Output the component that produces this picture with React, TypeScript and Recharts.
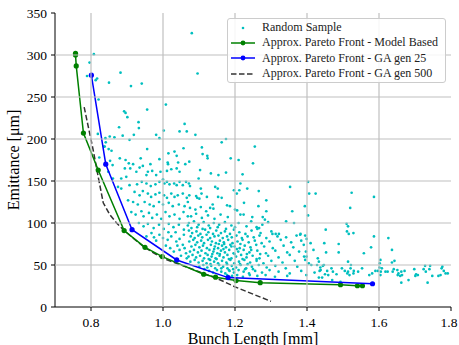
import {
  ScatterChart,
  Scatter,
  XAxis,
  YAxis,
  Legend,
} from "recharts";

// [bunch length (mm), emittance (um)]
const randomSample: [number, number][] = [
  // sparse top
  [0.808, 301], [0.796, 291], [0.789, 275], [0.813, 270], [0.817, 272], [0.85, 267],
  [0.882, 279], [0.911, 263], [0.941, 266], [1.08, 326], [1.096, 278], [0.821, 247],
  [0.892, 233], [0.896, 231], [0.901, 226], [0.956, 235], [1.008, 241], [0.932, 220],
  [0.933, 213], [1.06, 218], [0.878, 214], [0.819, 206], [0.981, 205], [0.99, 201],
  [1.002, 210], [1.046, 209], [1.066, 209], [1.09, 205], [0.907, 199], [0.919, 205],
  [0.865, 202], [0.84, 201], [0.888, 204], [1.175, 200], [1.163, 196], [1.108, 190],
  [1.255, 191], [0.823, 178], [0.838, 191], [0.852, 203],
  // left-middle
  [0.841, 196], [0.849, 188], [0.857, 186], [0.836, 191], [0.956, 188], [1.015, 183],
  [1.038, 180], [1.032, 185], [1.057, 189], [0.853, 174], [0.86, 169], [0.88, 177],
  [0.896, 175], [0.905, 171], [0.917, 170], [0.938, 177], [0.944, 168], [0.965, 170],
  [0.99, 176], [1.013, 172], [1.014, 170], [1.042, 172], [1.062, 170], [0.848, 161],
  [0.894, 165], [0.909, 165], [0.926, 161], [0.935, 166], [0.958, 161], [0.954, 157],
  [0.97, 162], [0.981, 157], [0.993, 161], [1.0, 152], [1.011, 162], [1.023, 164],
  [1.038, 165], [1.046, 161], [0.861, 153], [0.884, 153], [0.898, 155], [0.875, 143],
  [0.884, 141],
  [0.907, 145], [0.928, 146], [0.941, 149], [0.954, 147], [0.966, 144], [0.979, 146],
  [0.99, 149], [1.004, 147], [1.011, 149], [1.018, 146], [1.031, 147], [1.038, 145],
  [1.046, 149], [1.055, 145], [1.064, 149], [1.072, 147],
  [0.921, 137], [0.935, 133], [0.944, 138], [0.958, 135], [0.967, 131], [0.979, 134],
  [0.99, 136], [1.003, 133], [1.011, 130], [1.023, 135], [1.032, 131], [1.041, 133],
  [1.055, 135], [1.066, 130], [1.073, 133],
  [0.903, 127], [0.917, 125], [0.93, 122], [0.949, 125], [0.963, 122], [0.974, 120],
  [0.989, 125], [1.0, 122], [1.016, 124], [1.027, 120], [1.044, 122], [1.06, 120],
  [1.069, 125],
  [0.912, 113], [0.924, 110], [0.94, 114], [0.946, 108], [0.961, 112], [0.97, 106],
  [0.983, 110], [0.995, 105], [1.007, 113], [1.018, 108], [1.032, 110], [1.046, 105],
  [1.057, 113], [1.069, 108],
  [0.933, 100], [0.946, 96], [0.958, 99], [0.974, 94], [0.989, 98], [1.002, 93],
  [1.016, 99], [1.029, 95], [1.044, 98], [1.058, 92], [1.069, 97],
  // lower left near the front
  [0.954, 84], [0.981, 79], [1.0, 82], [1.013, 80], [1.023, 84], [1.037, 78],
  [1.046, 81], [1.055, 74], [1.046, 68], [1.064, 64], [1.05, 61], [1.066, 58],
  [0.968, 88], [0.99, 86], [1.008, 73], [1.02, 70], [1.03, 66], [1.06, 70],
  [1.058, 86], [1.035, 89], [0.975, 83], [1.015, 89], [1.04, 73],
  // dense core
  [1.075, 118], [1.09, 116], [1.105, 119], [1.12, 114], [1.14, 117],
  [1.078, 108], [1.092, 111], [1.108, 106], [1.125, 109], [1.143, 105], [1.16, 110],
  [1.18, 107], [1.072, 100], [1.086, 102], [1.099, 98], [1.113, 101], [1.127, 97],
  [1.141, 100], [1.156, 98], [1.172, 101], [1.19, 97], [1.21, 100], [1.232, 96],
  [1.079, 94], [1.095, 95], [1.11, 93], [1.131, 94], [1.152, 95], [1.175, 93],
  [1.2, 95], [1.26, 95],
  [1.072, 91], [1.081, 88], [1.093, 90], [1.104, 87], [1.117, 92], [1.126, 89],
  [1.139, 87], [1.148, 91], [1.161, 88], [1.172, 90], [1.186, 87], [1.197, 92],
  [1.212, 89], [1.229, 87], [1.246, 91], [1.271, 88], [1.301, 90], [1.322, 87],
  [1.077, 84], [1.088, 82], [1.098, 85], [1.109, 83], [1.121, 86], [1.131, 82],
  [1.143, 84], [1.154, 85], [1.166, 82], [1.178, 84], [1.191, 83], [1.204, 85],
  [1.219, 82], [1.235, 84], [1.252, 83], [1.268, 85], [1.287, 82], [1.318, 84],
  [1.342, 83], [1.371, 85],
  [1.073, 78], [1.084, 80], [1.095, 77], [1.106, 79], [1.114, 76], [1.125, 80],
  [1.136, 78], [1.147, 76], [1.158, 79], [1.169, 77], [1.181, 80], [1.193, 76],
  [1.207, 78], [1.221, 80], [1.238, 77], [1.255, 79], [1.274, 76], [1.296, 78],
  [1.327, 80], [1.356, 77], [1.384, 79], [1.41, 76],
  [1.079, 72], [1.09, 74], [1.101, 71], [1.111, 73], [1.122, 70], [1.133, 74],
  [1.144, 72], [1.153, 70], [1.164, 73], [1.175, 71], [1.187, 74], [1.199, 72],
  [1.213, 70], [1.227, 73], [1.243, 71], [1.259, 74], [1.281, 72], [1.305, 70],
  [1.335, 73], [1.362, 71], [1.391, 74],
  [1.075, 66], [1.086, 68], [1.097, 65], [1.107, 67], [1.118, 64], [1.129, 68],
  [1.14, 66], [1.151, 64], [1.161, 67], [1.172, 65], [1.184, 68], [1.196, 64],
  [1.209, 66], [1.224, 68], [1.24, 65], [1.262, 67], [1.286, 64], [1.312, 67],
  [1.345, 65], [1.378, 66], [1.418, 68],
  [1.071, 60], [1.082, 62], [1.092, 59], [1.103, 61], [1.114, 58], [1.124, 62],
  [1.135, 60], [1.146, 58], [1.157, 61], [1.168, 59], [1.179, 62], [1.19, 58],
  [1.203, 60], [1.217, 62], [1.232, 59], [1.249, 61], [1.268, 58], [1.292, 61],
  [1.321, 59], [1.352, 62], [1.392, 60], [1.43, 58],
  [1.076, 54], [1.088, 56], [1.099, 53], [1.11, 55], [1.121, 52], [1.131, 56],
  [1.142, 54], [1.153, 52], [1.164, 55], [1.176, 53], [1.187, 56], [1.198, 52],
  [1.211, 54], [1.226, 56], [1.242, 53], [1.26, 55], [1.279, 52], [1.301, 55],
  [1.332, 53], [1.366, 55], [1.405, 52],
  [1.101, 48], [1.112, 50], [1.123, 47], [1.134, 49], [1.145, 46], [1.156, 50],
  [1.167, 48], [1.179, 46], [1.191, 49], [1.203, 47], [1.216, 50], [1.231, 46],
  [1.247, 48], [1.266, 50], [1.288, 47], [1.312, 49], [1.341, 46], [1.373, 48],
  [1.412, 50],
  [1.128, 43], [1.139, 41], [1.15, 44], [1.162, 42], [1.173, 40], [1.185, 43],
  [1.197, 41], [1.21, 44], [1.224, 42], [1.239, 40], [1.256, 43], [1.275, 41],
  [1.296, 44], [1.321, 42], [1.352, 40], [1.384, 43], [1.421, 41],
  [1.178, 38], [1.192, 37], [1.206, 38], [1.222, 36], [1.241, 38], [1.262, 37],
  [1.285, 38], [1.311, 36], [1.345, 37], [1.398, 38],
  [1.115, 45], [1.132, 51], [1.149, 57], [1.158, 63], [1.168, 69], [1.178, 51],
  [1.183, 57], [1.195, 45], [1.199, 63], [1.205, 69], [1.214, 51], [1.221, 57],
  [1.228, 45], [1.233, 63], [1.183, 44], [1.162, 46], [1.137, 63], [1.127, 57],
  [1.142, 69], [1.17, 75], [1.19, 72], [1.155, 75], [1.215, 75], [1.235, 51],
  [1.25, 45], [1.26, 57], [1.27, 63], [1.245, 68],
  // upper middle
  [1.11, 182], [1.123, 180], [1.124, 177], [1.188, 177], [1.21, 175], [1.25, 171],
  [1.103, 163], [1.099, 153], [1.133, 159], [1.154, 157], [1.175, 160], [1.221, 158],
  [1.073, 173], [1.075, 144], [1.145, 143], [1.152, 141], [1.215, 147], [1.105, 141],
  [1.107, 135], [1.197, 139], [1.234, 141], [1.266, 138], [1.205, 135], [1.212, 139],
  [1.353, 143], [1.403, 149], [1.406, 135], [1.424, 135], [1.092, 132], [1.095, 130],
  [1.101, 129], [1.122, 131], [1.153, 131], [1.163, 130], [1.287, 127], [1.225, 124],
  [1.265, 120], [1.178, 121], [1.186, 120], [1.394, 120], [1.138, 122], [1.131, 118],
  [1.2, 116], [1.206, 115], [1.287, 114], [1.359, 114], [1.403, 109], [1.224, 110],
  [1.215, 110], [1.277, 107], [1.248, 107], [1.283, 104], [1.245, 102], [1.292, 101],
  [1.342, 102], [1.364, 100], [1.276, 98], [1.262, 93], [1.267, 94], [1.304, 87],
  [1.313, 87], [1.382, 87],
  // right side
  [1.524, 136], [1.586, 131], [1.52, 118], [1.51, 99], [1.452, 92], [1.511, 90],
  [1.516, 87], [1.529, 88], [1.514, 96], [1.488, 75], [1.448, 76], [1.453, 65],
  [1.488, 65], [1.586, 84], [1.578, 71], [1.558, 64], [1.626, 82], [1.636, 68],
  [1.381, 86], [1.395, 85], [1.399, 81], [1.397, 66], [1.399, 60], [1.395, 56],
  [1.428, 50], [1.444, 49], [1.604, 56], [1.602, 52], [1.643, 55], [1.636, 53],
  [1.447, 50], [1.437, 47], [1.435, 43], [1.433, 35], [1.468, 46], [1.472, 42],
  [1.45, 39], [1.497, 46], [1.505, 43], [1.514, 54], [1.522, 50], [1.521, 46],
  [1.514, 42], [1.518, 38], [1.53, 43], [1.542, 42], [1.553, 46], [1.47, 32],
  [1.493, 30], [1.573, 38], [1.581, 40], [1.59, 43], [1.597, 43], [1.605, 42],
  [1.604, 38], [1.601, 47], [1.608, 46], [1.433, 54], [1.438, 44], [1.456, 43],
  [1.459, 38], [1.482, 39], [1.442, 35], [1.512, 40], [1.529, 40],
  [1.618, 42], [1.624, 42], [1.638, 42], [1.641, 45], [1.651, 44], [1.662, 42],
  [1.654, 40], [1.652, 38], [1.659, 37], [1.664, 38], [1.671, 43], [1.662, 29],
  [1.682, 32], [1.701, 37], [1.703, 39], [1.698, 45], [1.708, 38], [1.724, 45],
  [1.728, 49], [1.73, 42], [1.74, 45], [1.742, 49], [1.748, 37], [1.735, 29],
  [1.765, 37], [1.771, 38], [1.776, 48], [1.78, 43], [1.785, 40], [1.791, 40],
  [1.774, 46],
];

const modelBased: [number, number][] = [
  [0.757, 302], [0.757, 300], [0.759, 287], [0.779, 207], [0.82, 163], [0.892, 91],
  [0.95, 71], [0.998, 60], [1.113, 39], [1.146, 35.5], [1.203, 31.5], [1.27, 29],
  [1.493, 26.5], [1.54, 25.3], [1.554, 25.3],
];

const gaGen25: [number, number][] = [
  [0.801, 276], [0.841, 170], [0.914, 92], [1.038, 56], [1.181, 35], [1.582, 27.7],
];

const gaGen500: [number, number][] = [
  [0.781, 238], [0.806, 187], [0.82, 155], [0.834, 124], [0.852, 110], [0.871, 100],
  [0.892, 91], [0.95, 70.5], [1.0, 58], [1.05, 50], [1.1, 42], [1.15, 34],
  [1.2, 24], [1.3, 6.7],
];

const xTicks = [0.8, 1.0, 1.2, 1.4, 1.6, 1.8];
const yTicks = [0, 50, 100, 150, 200, 250, 300, 350];
const X_DOMAIN: [number, number] = [0.7, 1.8];
const Y_DOMAIN: [number, number] = [0, 350];

const toPoints = (pts: [number, number][]) => pts.map(([x, y]) => ({ x, y }));

// layout
const W = 459;
const H = 345;
const MARGIN = { top: 13, right: 8, bottom: 0, left: 0 };
const Y_AXIS_W = 55;
const X_AXIS_H = 38;
const PLOT_LEFT = MARGIN.left + Y_AXIS_W;
const PLOT_RIGHT = W - MARGIN.right;
const PLOT_TOP = MARGIN.top;
const PLOT_BOTTOM = H - MARGIN.bottom - X_AXIS_H;

const FONT = "'Liberation Serif', 'DejaVu Serif', serif";
const GRID = "#c0c0c0";

// ticks that also draw their grid line (matplotlib-style grid)
const XTick = (props: any) => {
  const { x, y, payload } = props;
  const v = payload.value as number;
  return (
    <g>
      {v !== X_DOMAIN[1] && (
        <line x1={x} x2={x} y1={PLOT_TOP} y2={PLOT_BOTTOM} stroke={GRID} strokeWidth={1.2} />
      )}
      <text x={x} y={y} dy="0.71em" textAnchor="middle" fontFamily={FONT} fontSize={13.5} fill="#000">
        {v.toFixed(1)}
      </text>
    </g>
  );
};

const YTick = (props: any) => {
  const { x, y, payload } = props;
  const v = payload.value as number;
  return (
    <g>
      {v !== Y_DOMAIN[0] && v !== Y_DOMAIN[1] && (
        <line x1={PLOT_LEFT} x2={PLOT_RIGHT} y1={y} y2={y} stroke={GRID} strokeWidth={1.2} />
      )}
      <text x={x} y={y} dy="0.355em" textAnchor="end" fontFamily={FONT} fontSize={13.5} fill="#000">
        {v}
      </text>
    </g>
  );
};

const SampleDot = (props: any) => (
  <circle cx={props.cx} cy={props.cy} r={1.35} fill="#00bfbf" />
);
const GreenDot = (props: any) => (
  <circle cx={props.cx} cy={props.cy} r={2.6} fill="#008000" />
);
const BlueDot = (props: any) => (
  <circle cx={props.cx} cy={props.cy} r={2.6} fill="#0000ff" />
);
const NoDot = () => <g />;

const legendRows = [
  { label: "Random Sample", kind: "dot", color: "#00bfbf" },
  { label: "Approx. Pareto Front - Model Based", kind: "line", color: "#008000" },
  { label: "Approx. Pareto Front - GA gen 25", kind: "line", color: "#0000ff" },
  { label: "Approx. Pareto Front - GA gen 500", kind: "dash", color: "#333" },
];

function LegendBox() {
  return (
    <div
      style={{
        border: "1px solid #cccccc",
        borderRadius: 3,
        background: "rgba(255,255,255,0.85)",
        padding: "1px 0",
        fontFamily: FONT,
        fontSize: 12,
        color: "#222",
      }}
    >
      {legendRows.map((row) => (
        <div
          key={row.label}
          style={{ display: "flex", alignItems: "center", height: 15.3 }}
        >
          <svg width={34} height={12} style={{ flexShrink: 0 }}>
            {row.kind === "dot" && <circle cx={15} cy={6} r={1.3} fill={row.color} />}
            {row.kind === "line" && (
              <>
                <line x1={3} y1={6} x2={27} y2={6} stroke={row.color} strokeWidth={1.5} />
                <circle cx={15} cy={6} r={2.4} fill={row.color} />
              </>
            )}
            {row.kind === "dash" && (
              <line
                x1={3}
                y1={6}
                x2={27}
                y2={6}
                stroke={row.color}
                strokeWidth={1.5}
                strokeDasharray="5.5 2.5"
              />
            )}
          </svg>
          <span style={{ whiteSpace: "nowrap" }}>{row.label}</span>
        </div>
      ))}
    </div>
  );
}

export default function App() {
  return (
    <div style={{ position: "absolute", left: 0, top: 0, background: "#fff" }}>
      <ScatterChart width={W} height={H} margin={MARGIN}>
        <XAxis
          type="number"
          dataKey="x"
          domain={X_DOMAIN}
          ticks={xTicks}
          tick={<XTick />}
          tickSize={4}
          tickMargin={6}
          height={X_AXIS_H}
          stroke="#000"
          label={({ viewBox }: any) => (
            <text
              x={viewBox.x + viewBox.width / 2}
              y={viewBox.y + 36.5}
              textAnchor="middle"
              fontFamily={FONT}
              fontSize={16}
              fill="#000"
            >
              Bunch Length [mm]
            </text>
          )}
        />
        <XAxis
          xAxisId="top"
          orientation="top"
          type="number"
          domain={X_DOMAIN}
          tick={false}
          tickLine={false}
          height={0}
          stroke="#000"
        />
        <YAxis
          type="number"
          dataKey="y"
          domain={Y_DOMAIN}
          ticks={yTicks}
          tick={<YTick />}
          tickSize={4}
          tickMargin={4}
          width={Y_AXIS_W}
          stroke="#000"
          label={({ viewBox }: any) => {
            const cy = viewBox.y + viewBox.height / 2;
            return (
              <text
                x={19}
                y={cy}
                transform={`rotate(-90 19 ${cy})`}
                textAnchor="middle"
                fontFamily={FONT}
                fontSize={16}
                fill="#000"
              >
                Emittance [μm]
              </text>
            );
          }}
        />
        <YAxis
          yAxisId="right"
          orientation="right"
          type="number"
          domain={Y_DOMAIN}
          tick={false}
          tickLine={false}
          width={0}
          stroke="#000"
        />
        <Scatter
          name="Random Sample"
          data={toPoints(randomSample)}
          shape={SampleDot}
          isAnimationActive={false}
        />
        <Scatter
          name="Approx. Pareto Front - GA gen 500"
          data={toPoints(gaGen500)}
          line={{ stroke: "#333", strokeWidth: 1.5, strokeDasharray: "5.5 2.5" }}
          shape={NoDot}
          isAnimationActive={false}
        />
        <Scatter
          name="Approx. Pareto Front - Model Based"
          data={toPoints(modelBased)}
          line={{ stroke: "#008000", strokeWidth: 1.5 }}
          shape={GreenDot}
          isAnimationActive={false}
        />
        <Scatter
          name="Approx. Pareto Front - GA gen 25"
          data={toPoints(gaGen25)}
          line={{ stroke: "#0000ff", strokeWidth: 1.5 }}
          shape={BlueDot}
          isAnimationActive={false}
        />
        <Legend
          layout="vertical"
          align="center"
          verticalAlign="middle"
          content={() => <LegendBox />}
          wrapperStyle={{ left: 227, top: 18, width: 219 }}
        />
      </ScatterChart>
    </div>
  );
}
